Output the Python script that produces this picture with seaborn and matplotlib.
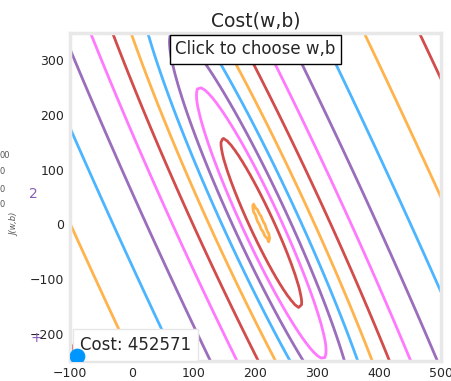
"""
Cost(w,b) contour plot for the house price regression example.
"""

import numpy as np
import matplotlib
matplotlib.use("Agg")
import matplotlib.pyplot as plt
import seaborn as sns

# training data (size in 1000 sqft, price in 1000s of dollars)
x_train = np.array([1.0, 1.7, 2.0, 2.5, 3.0, 3.2])
y_train = np.array([250, 300, 480, 430, 630, 730])

# ranges shown on the contour plot
w_range = np.array([-100.0, 500.0])
b_range = np.array([-250.0, 350.0])

# current point and its cost label
w_cur = -89
b_cur = -240
cost_label = "Cost: 452571"

# course colours
dlblue = "#0096ff"
dlorange = "#FF9300"
dldarkred = "#C00000"
dlmagenta = "#FF40FF"
dlpurple = "#7030A0"
dlcolors = [dlblue, dlorange, dldarkred, dlmagenta, dlpurple]


def compute_cost(x, y, w, b):
    f_wb = w * x + b
    return np.sum((f_wb - y) ** 2) / (2 * len(x))


sns.set_style("white")
plt.rcParams["font.family"] = ["DejaVu Sans"]

fig = plt.figure(figsize=(4.52, 3.81), dpi=100)
fig.set_facecolor("#ffffff")
ax = fig.add_axes([70 / 452, 1 - 361 / 381, 371 / 452, 328 / 381])

# cost surface over the w,b grid
w_space = np.linspace(*w_range, 100)
b_space = np.linspace(*b_range, 100)
tmp_b, tmp_w = np.meshgrid(b_space, w_space)
z = np.zeros_like(tmp_b)
for i in range(tmp_w.shape[0]):
    for j in range(tmp_w.shape[1]):
        z[i, j] = compute_cost(x_train, y_train, tmp_w[i][j], tmp_b[i][j])
        if z[i, j] == 0:
            z[i, j] = 1e-6

ax.contour(tmp_w, tmp_b, np.log(z), levels=12, linewidths=2, alpha=0.7, colors=dlcolors)
ax.set_xlim(w_range)
ax.set_ylim(b_range)
ax.set_title("Cost(w,b)", fontsize=13.5, pad=5)

sns.scatterplot(x=[w_cur], y=[b_cur], s=110, color=dlblue, edgecolor=dlblue,
                zorder=20, ax=ax, legend=False)

ax.text(0.5, 0.95, "Click to choose w,b", transform=ax.transAxes, fontsize=12,
        va="center", ha="center", bbox=dict(facecolor="white", ec="black"), zorder=11)
ax.annotate(cost_label, xy=(-100, -250), xytext=(7, 8), textcoords="offset points",
            fontsize=12, zorder=11,
            bbox=dict(boxstyle="square,pad=0.4", facecolor="white", ec="#e6e6e6"))

ax.set_xticks([-100, 0, 100, 200, 300, 400, 500])
ax.set_yticks([-200, -100, 0, 100, 200, 300])
ax.tick_params(labelsize=9, length=0, pad=4)
for sp in ax.spines.values():
    sp.set_color("#e8e8e8")
    sp.set_linewidth(2.5)

# fragments of the neighbouring subplot that show at the left edge
for yy, t in [(155, "00"), (172, "0"), (189, "0"), (204, "0")]:
    fig.text(0.0, 1 - yy / 381, t, fontsize=6, color="#555555", va="center", ha="left")
fig.text(15 / 452, 1 - 224 / 381, "J(w,b)", fontsize=6, rotation=90, style="italic",
         color="#555555", va="center", ha="center")
fig.text(33 / 452, 1 - 194 / 381, "2", fontsize=10, color="#8a5cb5", va="center", ha="center")
fig.text(36 / 452, 1 - 338 / 381, "+", fontsize=10, color="#8a5cb5", va="center", ha="center")

fig.savefig("out.png", dpi=100)
